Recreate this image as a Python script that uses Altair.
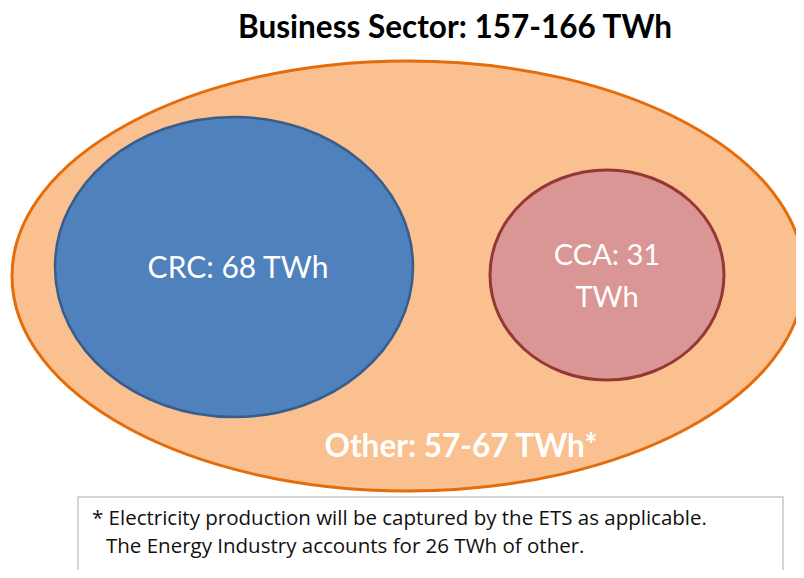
import altair as alt
import pandas as pd

# ---- content ----
title_text = "Business Sector: 157-166 TWh"

ellipse_name = ["Business Sector", "CRC", "CCA"]
ellipse_fill = ["#FAC090", "#4F81BD", "#D99694"]
ellipse_stroke = ["#E46C0A", "#385D8A", "#953735"]

label_text = ["CRC: 68 TWh", "CCA: 31", "TWh"]
other_text = "Other: 57-67 TWh*"

note_lines = [
    "* Electricity production will be captured by the ETS as applicable.",
    "The Energy Industry accounts for 26 TWh of other.",
]

# ---- layout (page pixel coordinates) ----
ellipse_cx = [408, 234, 607]
ellipse_cy = [276, 267, 275]
ellipse_rx = [396, 179, 117]
ellipse_ry = [215, 150, 105]
ellipse_sw = [3, 2.5, 3]

label_x = [238, 607, 607]
label_y = [278, 265, 307]
label_size = [30, 29, 29]
other_x, other_y = 461, 457

title_x, title_y = 455, 38
note_x = [92, 106]
note_y = [525, 553]
box_x, box_x2, box_y, box_y2 = 78, 783, 497, 580


def ellipse_path(rx, ry):
    k = ry / rx
    return f"M -1 0 A 1 {k:.4f} 0 1 1 1 0 A 1 {k:.4f} 0 1 1 -1 0 Z"


ell = pd.DataFrame({
    "name": ellipse_name,
    "x": ellipse_cx,
    "y": ellipse_cy,
    "path": [ellipse_path(a, b) for a, b in zip(ellipse_rx, ellipse_ry)],
    "size": [(2 * a) ** 2 for a in ellipse_rx],
    "fill": ellipse_fill,
    "stroke": ellipse_stroke,
    "sw": ellipse_sw,
    "order": [0, 1, 2],
})

labels = pd.DataFrame({"t": label_text, "x": label_x, "y": label_y, "s": label_size})
other_df = pd.DataFrame({"t": [other_text], "x": [other_x], "y": [other_y]})
title_df = pd.DataFrame({"t": [title_text], "x": [title_x], "y": [title_y]})
notes = pd.DataFrame({"t": note_lines, "x": note_x, "y": note_y})
box = pd.DataFrame({"x": [box_x], "x2": [box_x2], "y": [box_y], "y2": [box_y2]})

W, H = 788, 562
xs = alt.Scale(domain=[8, 8 + W], nice=False, zero=False)
ys = alt.Scale(domain=[8, 8 + H], nice=False, zero=False, reverse=True)
X = lambda f="x": alt.X(f"{f}:Q", scale=xs, axis=None)
Y = lambda f="y": alt.Y(f"{f}:Q", scale=ys, axis=None)

ellipses = alt.Chart(ell).mark_point(filled=True, opacity=1, clip=True).encode(
    x=X(), y=Y(),
    shape=alt.Shape("path:N", scale=None, legend=None),
    size=alt.Size("size:Q", scale=None, legend=None),
    fill=alt.Fill("fill:N", scale=None, legend=None),
    stroke=alt.Stroke("stroke:N", scale=None, legend=None),
    strokeWidth=alt.StrokeWidth("sw:Q", scale=None, legend=None),
    order=alt.Order("order:Q"),
)

boxes = alt.Chart(box).mark_rect(fill="white", stroke="#C6C6C6", strokeWidth=1.5, clip=True).encode(
    x=X(), x2="x2:Q", y=Y(), y2="y2:Q"
)

label_layer = alt.Chart(labels).mark_text(
    align="center", baseline="alphabetic", font="Lato", color="white"
).encode(x=X(), y=Y(), text="t:N", size=alt.Size("s:Q", scale=None, legend=None))

other_layer = alt.Chart(other_df).mark_text(
    align="center", baseline="alphabetic", font="Lato", fontSize=31.5, fontWeight="bold", color="white"
).encode(x=X(), y=Y(), text="t:N")

title_layer = alt.Chart(title_df).mark_text(
    align="center", baseline="alphabetic", font="Lato", fontSize=31.5, fontWeight="bold", color="black"
).encode(x=X(), y=Y(), text="t:N")

note_layer = alt.Chart(notes).mark_text(
    align="left", baseline="alphabetic", font="Open Sans", fontSize=20.5, color="#111111"
).encode(x=X(), y=Y(), text="t:N")

chart = alt.layer(ellipses, boxes, label_layer, other_layer, title_layer, note_layer).properties(
    width=W, height=H, padding=0, autosize=alt.AutoSizeParams(type="none"), background="white"
).configure_view(stroke=None)

chart.save("out.html", embed_options={"renderer": "svg", "actions": False})
